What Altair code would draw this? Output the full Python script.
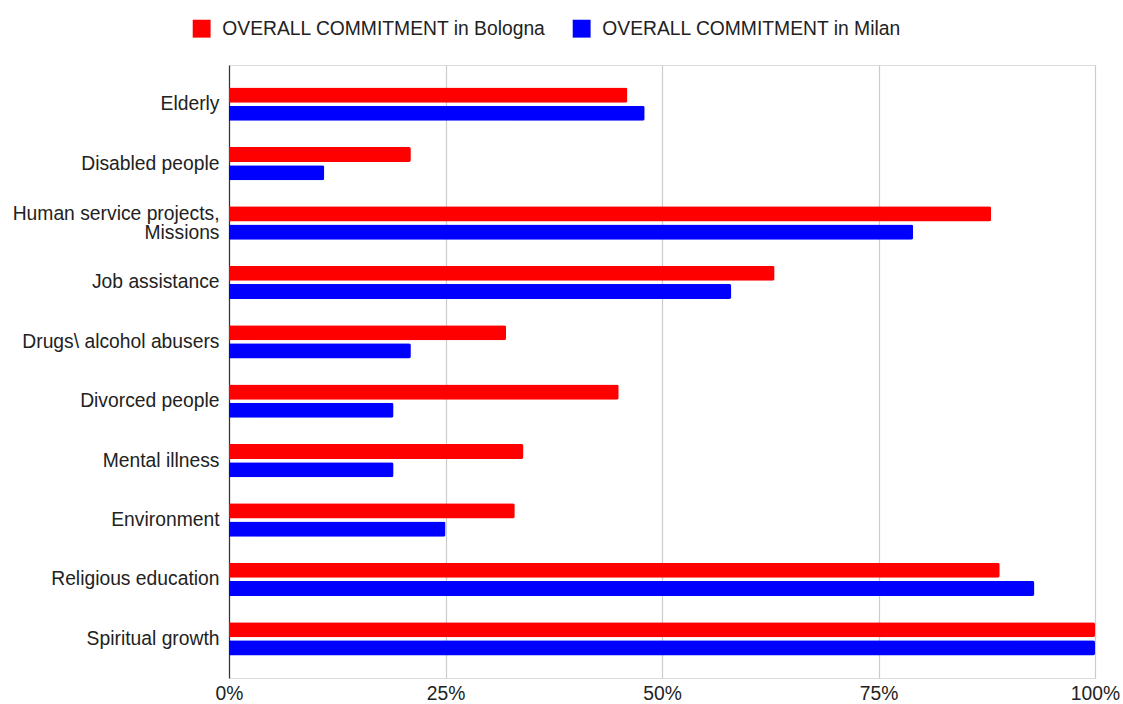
import altair as alt
import pandas as pd

categories = [
    "Elderly",
    "Disabled people",
    "Human service projects, Missions",
    "Job assistance",
    "Drugs\\ alcohol abusers",
    "Divorced people",
    "Mental illness",
    "Environment",
    "Religious education",
    "Spiritual growth",
]
bologna = [46, 21, 88, 63, 32, 45, 34, 33, 89, 100]
milan = [48, 11, 79, 58, 21, 19, 19, 25, 93, 100]
series_names = ["OVERALL COMMITMENT in Bologna", "OVERALL COMMITMENT in Milan"]
series_colors = ["#ff0000", "#0000ff"]
x_ticks = [0, 0.25, 0.5, 0.75, 1.0]

rows = []
for c, b, m in zip(categories, bologna, milan):
    rows.append({"category": c, "series": series_names[0], "value": b / 100})
    rows.append({"category": c, "series": series_names[1], "value": m / 100})
df = pd.DataFrame(rows)

FONT = "Liberation Sans"
WRAP = "Human service projects, Missions"

chart = (
    alt.Chart(df)
    .mark_bar(cornerRadiusEnd=2)
    .encode(
        y=alt.Y(
            "category:N",
            sort=categories,
            title=None,
            scale=alt.Scale(paddingInner=0.44, paddingOuter=0.38),
            axis=alt.Axis(
                labelFontSize=19.3,
                labelColor="#222222",
                labelFont=FONT,
                labelPadding=10,
                labelLineHeight=19,
                ticks=False,
                domainColor="#333333",
                domainWidth=1.2,
                grid=False,
                labelLimit=400,
                labelOffset={"condition": {"test": f"datum.value == '{WRAP}'", "value": -9}, "value": 0},
                labelExpr=f"datum.value == '{WRAP}' ? ['Human service projects,', 'Missions'] : datum.label",
            ),
        ),
        yOffset=alt.YOffset(
            "series:N",
            sort=series_names,
            scale=alt.Scale(paddingInner=0.17, paddingOuter=0),
        ),
        x=alt.X(
            "value:Q",
            title=None,
            scale=alt.Scale(domain=[0, 1], nice=False),
            axis=alt.Axis(
                values=x_ticks,
                format=".0%",
                labelFontSize=19.3,
                labelColor="#222222",
                labelFont=FONT,
                labelPadding=6,
                labelFlush=False,
                ticks=False,
                domain=False,
                gridColor="#cccccc",
                gridWidth=1.2,
            ),
        ),
        color=alt.Color(
            "series:N",
            sort=series_names,
            scale=alt.Scale(domain=series_names, range=series_colors),
            legend=alt.Legend(
                title=None,
                orient="none",
                direction="horizontal",
                legendX=-37,
                legendY=-46,
                labelFontSize=19.3,
                labelFont=FONT,
                labelColor="#222222",
                symbolType="square",
                symbolSize=320,
                symbolStrokeWidth=0,
                labelOffset=11,
                columnPadding=26,
                labelLimit=500,
            ),
        ),
    )
    .properties(
        width=866,
        height=613,
        autosize=alt.AutoSizeParams(type="none"),
        padding={"left": 229, "top": 65, "right": 28, "bottom": 26},
    )
    .configure_view(stroke=None)
    .configure(background="white")
)

chart.save("out.html", embed_options={"renderer": "svg", "actions": False})
